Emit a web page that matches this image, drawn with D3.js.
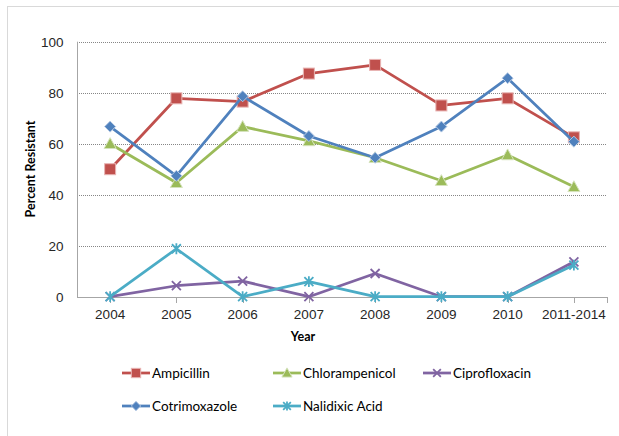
<!DOCTYPE html>
<html>
<head>
<meta charset="utf-8">
<script src="https://cdn.jsdelivr.net/npm/d3@7"></script>
<style>
  html, body { margin: 0; padding: 0; background: #fff; }
  svg { display: block; font-family: Lato, "Open Sans", "Liberation Sans", Arial, sans-serif; }
</style>
</head>
<body>
<svg id="chart" width="619" height="436"></svg>
<script>
// Antimicrobial resistance by year
const years = ["2004", "2005", "2006", "2007", "2008", "2009", "2010", "2011-2014"];
const ampicillin      = [50, 77.8, 76.5, 87.5, 90.9, 75, 77.8, 62.5];
const chloramphenicol = [60, 44.7, 66.7, 61.1, 54.5, 45.5, 55.6, 43.1];
const ciprofloxacin   = [0, 4.3, 6.1, 0, 9.1, 0, 0, 13.7];
const cotrimoxazole   = [66.7, 47.4, 78.6, 63.0, 54.5, 66.7, 85.7, 60.8];
const nalidixicAcid   = [0, 18.8, 0, 5.9, 0, 0, 0, 12.4];
const yTicks = [0, 20, 40, 60, 80, 100];

const series = [
  { name: "Ampicillin", values: ampicillin, color: "#C0504D", marker: "square" },
  { name: "Chlorampenicol", values: chloramphenicol, color: "#9BBB59", marker: "triangle" },
  { name: "Ciprofloxacin", values: ciprofloxacin, color: "#8064A2", marker: "x" },
  { name: "Cotrimoxazole", values: cotrimoxazole, color: "#4F81BD", marker: "diamond" },
  { name: "Nalidixic Acid", values: nalidixicAcid, color: "#4BACC6", marker: "asterisk" }
];

const svg = d3.select("#chart");
const plot = { left: 77, right: 607, top: 41.7, bottom: 296.7 };

// outer chart frame
svg.append("rect")
  .attr("x", 7.5).attr("y", 6.5)
  .attr("width", 640).attr("height", 460)
  .attr("fill", "#fff").attr("stroke", "#D9D9D9").attr("stroke-width", 1);

const x = d3.scaleBand().domain(years).range([plot.left, plot.right]);
const y = d3.scaleLinear().domain([0, 100]).range([plot.bottom, plot.top]);
const cx = d => x(d) + x.bandwidth() / 2;

// horizontal dotted gridlines
svg.append("g").selectAll("line")
  .data(yTicks.filter(t => t > 0))
  .join("line")
  .attr("x1", plot.left).attr("x2", plot.right)
  .attr("y1", d => Math.round(y(d)) + 0.5).attr("y2", d => Math.round(y(d)) + 0.5)
  .attr("stroke", "#868686").attr("stroke-width", 1).attr("stroke-dasharray", "1,1");

// y axis
const yAxis = svg.append("g")
  .attr("transform", `translate(${plot.left + 0.5},0)`)
  .call(d3.axisLeft(y).tickValues(yTicks).tickSize(0).tickPadding(14));
yAxis.select(".domain").attr("stroke", "#A6A6A6").attr("d", `M0,${plot.top}V${Math.round(plot.bottom) + 0.5}`);
yAxis.selectAll("text").attr("font-size", 13.5).attr("fill", "#262626");

// x axis
const xAxis = svg.append("g")
  .attr("transform", `translate(0,${Math.round(plot.bottom) + 0.5})`)
  .call(d3.axisBottom(x).tickSize(0).tickPadding(12));
xAxis.select(".domain").attr("stroke", "#A6A6A6").attr("d", `M${plot.left},0H${plot.right}`);
xAxis.selectAll("text").attr("font-size", 13.5).attr("fill", "#262626");
// tick marks at category centres and right end
svg.append("g").selectAll("line")
  .data(years.map(cx).concat([plot.right]))
  .join("line")
  .attr("x1", d => Math.round(d) + 0.5).attr("x2", d => Math.round(d) + 0.5)
  .attr("y1", Math.round(plot.bottom)).attr("y2", Math.round(plot.bottom) + 6)
  .attr("stroke", "#A6A6A6");

// axis titles
svg.append("text")
  .attr("transform", `translate(35,169) rotate(-90)`)
  .attr("text-anchor", "middle")
  .attr("font-size", 12.5).attr("font-weight", "bold").attr("fill", "#000")
  .text("Percent Resistant");
svg.append("text")
  .attr("x", 303).attr("y", 341)
  .attr("text-anchor", "middle")
  .attr("font-size", 12.5).attr("font-weight", "bold").attr("fill", "#000")
  .text("Year");

// marker shapes
function drawMarker(g, type, color, px, py, scale) {
  const s = scale || 1;
  if (type === "square") {
    const h = 5.5 * s;
    g.append("rect").attr("x", px - h).attr("y", py - h).attr("width", 2 * h).attr("height", 2 * h)
      .attr("fill", color).attr("stroke", "#E8B4B3").attr("stroke-width", 1);
  } else if (type === "triangle") {
    const h = 6 * s;
    g.append("path").attr("d", `M${px},${py - h}L${px + h},${py + h * 0.8}L${px - h},${py + h * 0.8}Z`)
      .attr("fill", color).attr("stroke", "#D5E3BC").attr("stroke-width", 1);
  } else if (type === "diamond") {
    const h = 5.5 * s;
    g.append("path").attr("d", `M${px},${py - h}L${px + h},${py}L${px},${py + h}L${px - h},${py}Z`)
      .attr("fill", color).attr("stroke", "#B5C9E4").attr("stroke-width", 1);
  } else if (type === "x") {
    const h = 4.5 * s;
    g.append("path").attr("d", `M${px - h},${py - h}L${px + h},${py + h}M${px - h},${py + h}L${px + h},${py - h}`)
      .attr("stroke", color).attr("stroke-width", 1.8).attr("fill", "none");
  } else if (type === "asterisk") {
    const h = 4.5 * s;
    g.append("path").attr("d",
      `M${px - h},${py - h}L${px + h},${py + h}M${px - h},${py + h}L${px + h},${py - h}M${px},${py - h * 1.2}L${px},${py + h * 1.2}`)
      .attr("stroke", color).attr("stroke-width", 1.8).attr("fill", "none");
  }
}

const line = d3.line().x((d, i) => cx(years[i])).y(d => y(d));
const seriesLayer = svg.append("g");
series.forEach(s => {
  const g = seriesLayer.append("g");
  g.append("path").datum(s.values)
    .attr("d", line)
    .attr("fill", "none").attr("stroke", s.color).attr("stroke-width", 2.75)
    .attr("stroke-linejoin", "round");
  s.values.forEach((v, i) => drawMarker(g, s.marker, s.color, cx(years[i]), y(v)));
});

// legend
const legendPos = [
  { x: 122, y: 373 }, { x: 273, y: 373 }, { x: 423, y: 373 },
  { x: 122, y: 406 }, { x: 273, y: 406 }
];
series.forEach((s, i) => {
  const p = legendPos[i];
  const g = svg.append("g");
  g.append("line").attr("x1", p.x).attr("x2", p.x + 28).attr("y1", p.y).attr("y2", p.y)
    .attr("stroke", s.color).attr("stroke-width", 2.75);
  drawMarker(g, s.marker, s.color, p.x + 14, p.y, 0.85);
  g.append("text").attr("x", p.x + 30).attr("y", p.y).attr("dy", "0.35em")
    .attr("font-size", 13.5).attr("fill", "#000").text(s.name);
});
</script>
</body>
</html>
